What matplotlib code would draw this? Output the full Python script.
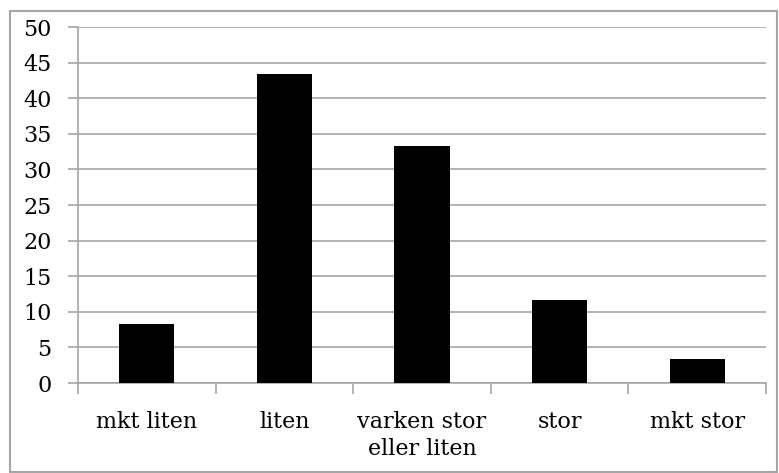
import matplotlib
matplotlib.use("Agg")
import matplotlib.pyplot as plt
from matplotlib.patches import Rectangle

categories = ["mkt liten", "liten", "varken stor\neller liten", "stor", "mkt stor"]
values = [8.33, 43.33, 33.33, 11.67, 3.33]
yticks = list(range(0, 51, 5))

grid_col = "#a6a6a6"
plt.rcParams['font.family'] = ['DejaVu Serif']

fig = plt.figure(figsize=(7.79, 4.73), dpi=100)
ax = fig.add_axes([78 / 779, 1 - 383 / 473, (766 - 78) / 779, (383 - 27) / 473])

# outer chart border
fig.patches.append(Rectangle((10 / 779, 1 / 473), 767 / 779, 461 / 473,
                             transform=fig.transFigure, fill=False,
                             edgecolor=grid_col, linewidth=1.5))

x = range(len(categories))
ax.bar(x, values, width=0.4, color="black", zorder=3)

ax.set_xlim(-0.5, len(categories) - 0.5)
ax.set_ylim(0, 50)
ax.set_yticks(yticks)
ax.yaxis.grid(True, color=grid_col, linewidth=1.2)
ax.set_axisbelow(True)

ax.set_xticks(x)
ax.set_xticklabels(categories, fontsize=16, linespacing=1.3)
ax.tick_params(axis="x", length=0, pad=20)
ax.tick_params(axis="y", length=7, width=1.2, color=grid_col, labelsize=16, pad=12)
# minor ticks between categories on x axis
ax.set_xticks([i - 0.5 for i in range(len(categories) + 1)], minor=True)
ax.tick_params(axis="x", which="minor", length=8, width=1.2, color=grid_col)

for side in ["top", "right"]:
    ax.spines[side].set_visible(False)
for side in ["left", "bottom"]:
    ax.spines[side].set_color(grid_col)
    ax.spines[side].set_linewidth(1.2)

fig.savefig("out.png", dpi=100)
